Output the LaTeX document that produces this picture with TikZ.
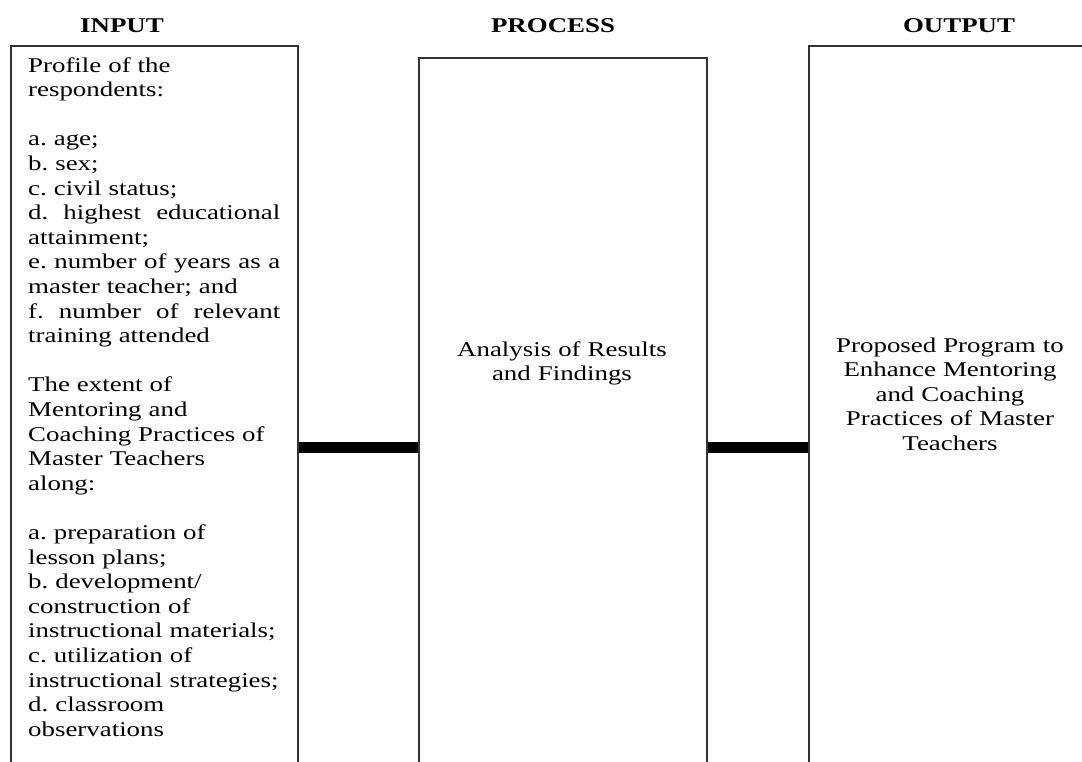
\documentclass[tikz,border=0pt]{standalone}
\usepackage{fontspec}
\setmainfont{Liberation Serif}[FakeStretch=1.28]
\frenchspacing
\newcommand{\fullline}[1]{\leavevmode\hbox to 252pt{#1}}
\begin{document}
\begin{tikzpicture}[x=1pt,y=-1pt,
  box/.style={draw=black!80,line width=1.5pt,inner sep=0pt,anchor=north west},
  head/.style={font=\fontsize{21}{25}\selectfont\bfseries,anchor=base,inner sep=0pt},
  body/.style={font=\fontsize{21}{24.6}\selectfont\frenchspacing,inner sep=0pt},
  link/.style={line width=11.5pt}]
\clip (0,0) rectangle (1082,761);
\node[box,minimum width=287pt,minimum height=740pt] (in) at (10,45) {};
\node[box,minimum width=288pt,minimum height=730pt] (proc) at (418,57) {};
\node[box,minimum width=284pt,minimum height=740pt] (out) at (808,45) {};
\node[head] (hin) at (122,32) {INPUT};
\node[head] (hproc) at (553,32) {PROCESS};
\node[head] (hout) at (959,32) {OUTPUT};
\node[body,anchor=base west,text width=252pt,align=left] (tin) at (28,72) {%
Profile of the\\
respondents:\\
\mbox{}\\
a. age;\\
b. sex;\\
c. civil status;\\
\fullline{d.\hfill highest\hfill educational}\\
attainment;\\
\fullline{e.\hfill number\hfill of\hfill years\hfill as\hfill a}\\
master teacher; and\\
\fullline{f.\hfill number\hfill of\hfill relevant}\\
training attended\\
\mbox{}\\
The extent of\\
Mentoring and\\
Coaching Practices of\\
Master Teachers\\
along:\\
\mbox{}\\
a. preparation of\\
lesson plans;\\
b. development/\\
construction of\\
instructional materials;\\
c. utilization of\\
instructional strategies;\\
d. classroom\\
observations};
\node[body,anchor=base,text width=270pt,align=center] (tproc) at (562,356) {Analysis of Results\\and Findings};
\node[body,anchor=base,text width=270pt,align=center] (tout) at (950,352) {Proposed Program to\\Enhance Mentoring\\and Coaching\\Practices of Master\\Teachers};
\coordinate (mid) at (0,447.5);
\draw[link] (in.east |- mid) -- (proc.west |- mid);
\draw[link] (proc.east |- mid) -- (out.west |- mid);
\end{tikzpicture}
\end{document}
